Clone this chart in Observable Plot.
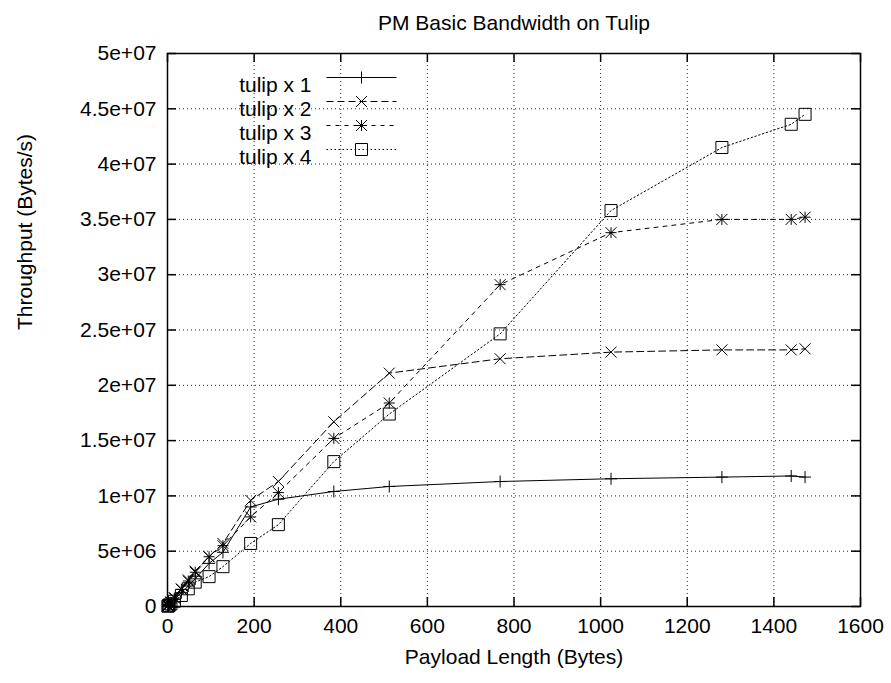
<!DOCTYPE html>
<html><head><meta charset="utf-8">
<script src="https://cdn.jsdelivr.net/npm/d3@7"></script>
<script src="https://cdn.jsdelivr.net/npm/@observablehq/plot@0.6"></script>
<style>
html,body{margin:0;padding:0;background:#fff;}
#chart svg{display:block;}
</style>
</head><body><div id="chart"></div>
<script>
// ---- data ----
const payload = [1, 2, 4, 8, 16, 32, 48, 64, 96, 128, 192, 256, 384, 512, 768, 1024, 1280, 1440, 1472];
const tulip1 = [40e3, 80e3, 160e3, 320e3, 640e3, 1.25e6, 1.85e6, 2.5e6, 3.9e6, 4.9e6, 9.0e6, 9.7e6, 10.4e6, 10.85e6, 11.3e6, 11.55e6, 11.7e6, 11.8e6, 11.7e6];
const tulip2 = [50e3, 100e3, 200e3, 400e3, 800e3, 1.6e6, 2.4e6, 3.2e6, 4.5e6, 5.7e6, 9.6e6, 11.3e6, 16.7e6, 21.1e6, 22.4e6, 23.0e6, 23.2e6, 23.2e6, 23.3e6];
const tulip3 = [48e3, 95e3, 190e3, 380e3, 760e3, 1.55e6, 2.3e6, 3.1e6, 4.5e6, 5.5e6, 8.1e6, 10.3e6, 15.2e6, 18.4e6, 29.1e6, 33.8e6, 35.0e6, 35.0e6, 35.2e6];
const tulip4 = [30e3, 60e3, 120e3, 240e3, 480e3, 1.0e6, 1.6e6, 2.2e6, 2.7e6, 3.6e6, 5.7e6, 7.4e6, 13.1e6, 17.4e6, 24.65e6, 35.8e6, 41.5e6, 43.6e6, 44.5e6];
const seriesNames = ["tulip x 1", "tulip x 2", "tulip x 3", "tulip x 4"];
const xTicks = [0, 200, 400, 600, 800, 1000, 1200, 1400, 1600];
const yTicks = [0, 5e6, 1e7, 1.5e7, 2e7, 2.5e7, 3e7, 3.5e7, 4e7, 4.5e7, 5e7];
const yTickLabels = ["0", "5e+06", "1e+07", "1.5e+07", "2e+07", "2.5e+07", "3e+07", "3.5e+07", "4e+07", "4.5e+07", "5e+07"];
const titleText = "PM Basic Bandwidth on Tulip";
const xLabel = "Payload Length (Bytes)";
const yLabel = "Throughput (Bytes/s)";

// ---- layout / style ----
const W = 891, H = 683;
const mL = 167, mR = 31, mT = 53, mB = 77;
const innerW = W - mL - mR, innerH = H - mT - mB;
const tickLen = 9;
const font = "'Liberation Sans', Arial, Helvetica, sans-serif";

const sym = {
  plus: {draw(c, s) { const r = Math.sqrt(s / Math.PI); c.moveTo(-r, 0); c.lineTo(r, 0); c.moveTo(0, -r); c.lineTo(0, r); }},
  times: {draw(c, s) { const r = Math.sqrt(s / Math.PI); c.moveTo(-r, -r); c.lineTo(r, r); c.moveTo(-r, r); c.lineTo(r, -r); }},
  asterisk: {draw(c, s) { const r = Math.sqrt(s / Math.PI); c.moveTo(-r, 0); c.lineTo(r, 0); c.moveTo(0, -r); c.lineTo(0, r); c.moveTo(-r, -r); c.lineTo(r, r); c.moveTo(-r, r); c.lineTo(r, -r); }},
  square: {draw(c, s) { const r = Math.sqrt(s / Math.PI); c.moveTo(-r, -r); c.lineTo(r, -r); c.lineTo(r, r); c.lineTo(-r, r); c.closePath(); }},
  hline: {draw(c, s) { const r = Math.sqrt(s / Math.PI); c.moveTo(-r, 0); c.lineTo(r, 0); }}
};

const seriesValues = [tulip1, tulip2, tulip3, tulip4];
const seriesStyle = [
  {dash: null, symbol: sym.plus, r: 6},
  {dash: "7,4", symbol: sym.times, r: 5.5},
  {dash: "4,5", symbol: sym.asterisk, r: 5.5},
  {dash: "1.5,2.5", symbol: sym.square, r: 6}
];

const marks = [];
// grid
marks.push(Plot.ruleX(xTicks.slice(1, -1), {x: d => d, stroke: "#000", strokeWidth: 1, strokeDasharray: "1,3", strokeOpacity: 0.85}));
marks.push(Plot.ruleY(yTicks.slice(1, -1), {y: d => d, stroke: "#000", strokeWidth: 1, strokeDasharray: "1,3", strokeOpacity: 0.85}));
// inward ticks on all four sides
marks.push(Plot.ruleX(xTicks, {x: d => d, stroke: "#000", strokeWidth: 1.5, insetTop: innerH - tickLen}));
marks.push(Plot.ruleX(xTicks, {x: d => d, stroke: "#000", strokeWidth: 1.5, insetBottom: innerH - tickLen}));
marks.push(Plot.ruleY(yTicks, {y: d => d, stroke: "#000", strokeWidth: 1.5, insetRight: innerW - tickLen}));
marks.push(Plot.ruleY(yTicks, {y: d => d, stroke: "#000", strokeWidth: 1.5, insetLeft: innerW - tickLen}));

// series
seriesValues.forEach((vals, i) => {
  const data = payload.map((p, j) => ({p, v: vals[j]}));
  const st = seriesStyle[i];
  marks.push(Plot.line(data, {x: "p", y: "v", stroke: "#000", strokeWidth: 1, strokeDasharray: st.dash}));
  marks.push(Plot.dot(data, {x: "p", y: "v", symbol: st.symbol, r: st.r, fill: "none", stroke: "#000", strokeWidth: 1}));
  // legend
  const ly = 24 + 24 * i;
  marks.push(Plot.text([seriesNames[i]], {text: d => d, frameAnchor: "top-left", dx: 144, dy: ly, textAnchor: "end", fill: "#000"}));
  marks.push(Plot.dot([seriesNames[i]], {frameAnchor: "top-left", dx: 194, dy: ly, symbol: sym.hline, r: 35, fill: "none", stroke: "#000", strokeWidth: 1, strokeDasharray: st.dash}));
  marks.push(Plot.dot([seriesNames[i]], {frameAnchor: "top-left", dx: 194, dy: ly, symbol: st.symbol, r: st.r, fill: "none", stroke: "#000", strokeWidth: 1}));
});

// frame
marks.push(Plot.frame({stroke: "#000", strokeWidth: 1.5}));

// tick labels
marks.push(Plot.text(xTicks, {x: d => d, text: d => String(d), frameAnchor: "bottom", dy: 26, fill: "#000"}));
marks.push(Plot.text(yTicks, {y: d => d, text: (d, i) => yTickLabels[i], frameAnchor: "left", dx: -11, textAnchor: "end", fill: "#000"}));

// axis titles and chart title
marks.push(Plot.text([xLabel], {text: d => d, frameAnchor: "bottom", dy: 57, fill: "#000"}));
marks.push(Plot.text([yLabel], {text: d => d, frameAnchor: "left", dx: -142, rotate: -90, fill: "#000"}));
marks.push(Plot.text([titleText], {text: d => d, frameAnchor: "top", dy: -38, fill: "#000"}));

const chart = Plot.plot({
  width: W, height: H,
  marginLeft: mL, marginRight: mR, marginTop: mT, marginBottom: mB,
  x: {domain: [0, 1600], axis: null},
  y: {domain: [0, 5e7], axis: null},
  style: {fontFamily: font, fontSize: "21px", background: "#fff", color: "#000", overflow: "visible"},
  marks
});
document.getElementById("chart").appendChild(chart);
</script>
</body></html>
